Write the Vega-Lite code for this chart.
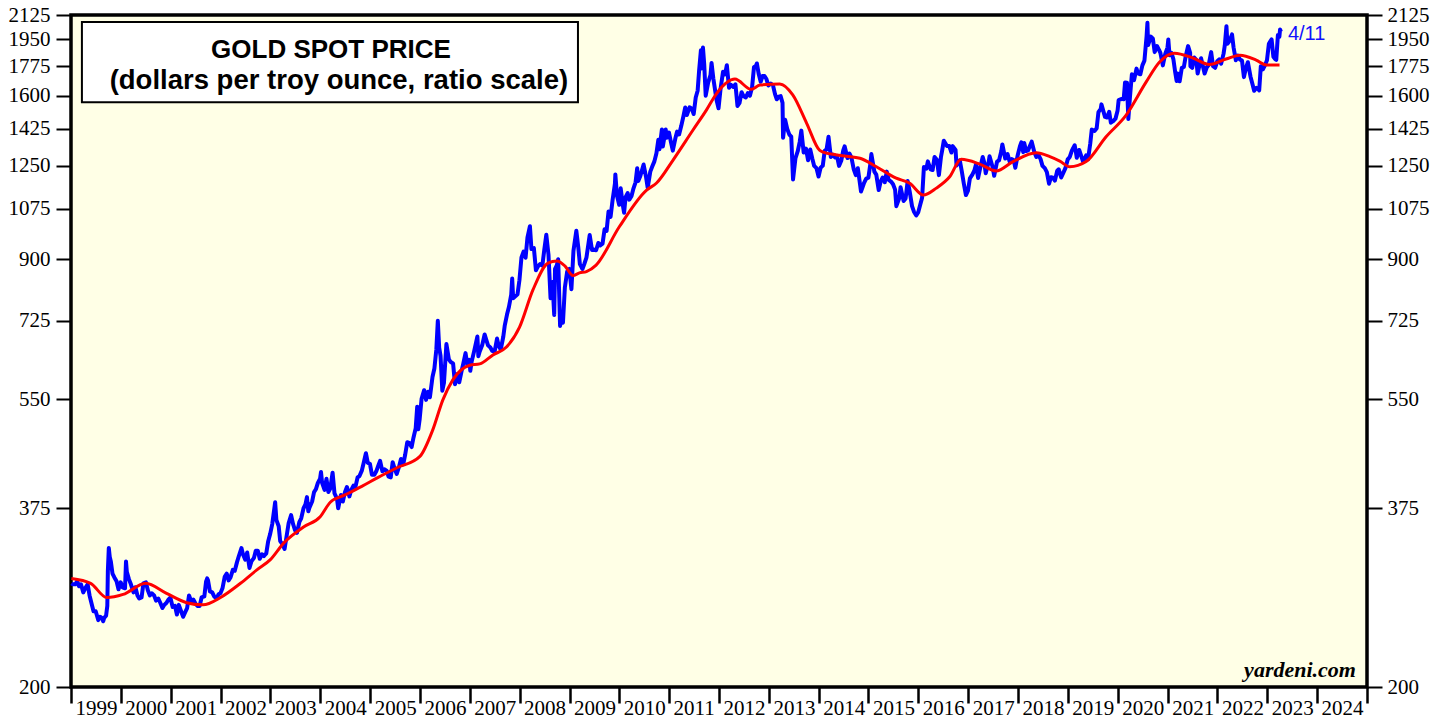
{
  "$schema": "https://vega.github.io/schema/vega-lite/v6.json",
  "width": 1296,
  "height": 672,
  "autosize": "none",
  "padding": {"left": 71, "top": 15, "right": 77, "bottom": 32},
  "background": "white",
  "datasets": {
    "gold": [
      {"d":"1999-01-04","p":288},{"d":"1999-01-15","p":287},{"d":"1999-02-01","p":287},{"d":"1999-02-15","p":290},{"d":"1999-03-01","p":285},{"d":"1999-03-15","p":287},{"d":"1999-04-01","p":279},{"d":"1999-04-15","p":283},{"d":"1999-05-03","p":287},{"d":"1999-05-17","p":276},{"d":"1999-06-01","p":268},{"d":"1999-06-15","p":261},{"d":"1999-07-01","p":261},{"d":"1999-07-20","p":253},{"d":"1999-08-02","p":256},{"d":"1999-08-16","p":255},{"d":"1999-08-25","p":252},{"d":"1999-09-01","p":255},{"d":"1999-09-15","p":257},{"d":"1999-09-24","p":266},{"d":"1999-09-28","p":300},{"d":"1999-10-05","p":326},{"d":"1999-10-12","p":316},{"d":"1999-10-20","p":311},{"d":"1999-11-01","p":298},{"d":"1999-11-15","p":294},{"d":"1999-12-01","p":290},{"d":"1999-12-15","p":282},{"d":"1999-12-31","p":289},
      {"d":"2000-01-14","p":284},{"d":"2000-02-01","p":283},{"d":"2000-02-08","p":311},{"d":"2000-02-14","p":300},{"d":"2000-03-01","p":292},{"d":"2000-03-15","p":287},{"d":"2000-04-03","p":279},{"d":"2000-04-17","p":284},{"d":"2000-05-02","p":276},{"d":"2000-05-15","p":273},{"d":"2000-06-01","p":274},{"d":"2000-06-15","p":288},{"d":"2000-07-03","p":289},{"d":"2000-07-17","p":281},{"d":"2000-08-01","p":276},{"d":"2000-08-15","p":278},{"d":"2000-09-01","p":276},{"d":"2000-09-15","p":271},{"d":"2000-10-02","p":273},{"d":"2000-10-16","p":269},{"d":"2000-11-01","p":264},{"d":"2000-11-15","p":267},{"d":"2000-12-01","p":269},{"d":"2000-12-15","p":272},{"d":"2000-12-29","p":274},
      {"d":"2001-01-15","p":265},{"d":"2001-02-01","p":266},{"d":"2001-02-15","p":258},{"d":"2001-03-01","p":267},{"d":"2001-03-15","p":262},{"d":"2001-04-02","p":256},{"d":"2001-04-16","p":260},{"d":"2001-05-01","p":264},{"d":"2001-05-15","p":276},{"d":"2001-06-01","p":270},{"d":"2001-06-15","p":272},{"d":"2001-07-02","p":268},{"d":"2001-07-16","p":266},{"d":"2001-08-01","p":266},{"d":"2001-08-15","p":274},{"d":"2001-09-04","p":275},{"d":"2001-09-17","p":290},{"d":"2001-09-25","p":293},{"d":"2001-10-01","p":291},{"d":"2001-10-15","p":280},{"d":"2001-11-01","p":279},{"d":"2001-11-15","p":275},{"d":"2001-12-03","p":273},{"d":"2001-12-17","p":277},{"d":"2001-12-31","p":278},
      {"d":"2002-01-15","p":283},{"d":"2002-02-01","p":295},{"d":"2002-02-15","p":298},{"d":"2002-03-01","p":291},{"d":"2002-03-15","p":294},{"d":"2002-04-01","p":302},{"d":"2002-04-15","p":301},{"d":"2002-05-01","p":310},{"d":"2002-05-15","p":317},{"d":"2002-06-03","p":326},{"d":"2002-06-14","p":319},{"d":"2002-07-01","p":313},{"d":"2002-07-15","p":321},{"d":"2002-08-01","p":304},{"d":"2002-08-15","p":311},{"d":"2002-09-03","p":315},{"d":"2002-09-16","p":323},{"d":"2002-10-01","p":323},{"d":"2002-10-15","p":314},{"d":"2002-11-01","p":319},{"d":"2002-11-15","p":317},{"d":"2002-12-02","p":320},{"d":"2002-12-16","p":334},{"d":"2002-12-31","p":343},
      {"d":"2003-01-15","p":355},{"d":"2003-02-05","p":383},{"d":"2003-02-14","p":360},{"d":"2003-03-03","p":352},{"d":"2003-03-14","p":334},{"d":"2003-04-01","p":330},{"d":"2003-04-15","p":325},{"d":"2003-05-01","p":341},{"d":"2003-05-15","p":356},{"d":"2003-06-02","p":366},{"d":"2003-06-16","p":355},{"d":"2003-07-01","p":347},{"d":"2003-07-15","p":344},{"d":"2003-08-01","p":357},{"d":"2003-08-15","p":362},{"d":"2003-09-01","p":375},{"d":"2003-09-15","p":380},{"d":"2003-09-26","p":390},{"d":"2003-10-06","p":371},{"d":"2003-10-15","p":376},{"d":"2003-11-03","p":384},{"d":"2003-11-17","p":397},{"d":"2003-12-01","p":401},{"d":"2003-12-15","p":410},{"d":"2003-12-31","p":416},
      {"d":"2004-01-07","p":426},{"d":"2004-01-15","p":410},{"d":"2004-02-02","p":400},{"d":"2004-02-16","p":416},{"d":"2004-03-01","p":397},{"d":"2004-03-15","p":402},{"d":"2004-04-01","p":425},{"d":"2004-04-15","p":395},{"d":"2004-05-03","p":388},{"d":"2004-05-12","p":375},{"d":"2004-06-01","p":393},{"d":"2004-06-15","p":384},{"d":"2004-07-01","p":397},{"d":"2004-07-15","p":404},{"d":"2004-08-02","p":391},{"d":"2004-08-16","p":400},{"d":"2004-09-01","p":406},{"d":"2004-09-15","p":404},{"d":"2004-10-01","p":418},{"d":"2004-10-15","p":420},{"d":"2004-11-01","p":428},{"d":"2004-11-15","p":440},{"d":"2004-12-01","p":455},{"d":"2004-12-15","p":440},{"d":"2004-12-31","p":438},
      {"d":"2005-01-14","p":422},{"d":"2005-02-01","p":422},{"d":"2005-02-15","p":427},{"d":"2005-03-01","p":435},{"d":"2005-03-15","p":443},{"d":"2005-04-01","p":427},{"d":"2005-04-15","p":430},{"d":"2005-05-02","p":428},{"d":"2005-05-16","p":419},{"d":"2005-06-01","p":418},{"d":"2005-06-15","p":441},{"d":"2005-07-01","p":430},{"d":"2005-07-15","p":423},{"d":"2005-08-01","p":434},{"d":"2005-08-15","p":446},{"d":"2005-09-01","p":438},{"d":"2005-09-15","p":453},{"d":"2005-09-30","p":473},{"d":"2005-10-14","p":472},{"d":"2005-11-01","p":465},{"d":"2005-11-15","p":481},{"d":"2005-12-01","p":497},{"d":"2005-12-12","p":536},{"d":"2005-12-20","p":495},{"d":"2005-12-30","p":513},
      {"d":"2006-01-13","p":551},{"d":"2006-02-01","p":568},{"d":"2006-02-15","p":549},{"d":"2006-03-01","p":565},{"d":"2006-03-15","p":554},{"d":"2006-04-03","p":595},{"d":"2006-04-17","p":613},{"d":"2006-05-01","p":655},{"d":"2006-05-12","p":725},{"d":"2006-05-22","p":660},{"d":"2006-06-01","p":641},{"d":"2006-06-14","p":567},{"d":"2006-06-26","p":583},{"d":"2006-07-03","p":615},{"d":"2006-07-14","p":668},{"d":"2006-08-01","p":633},{"d":"2006-08-15","p":627},{"d":"2006-09-01","p":624},{"d":"2006-09-15","p":580},{"d":"2006-10-02","p":601},{"d":"2006-10-16","p":584},{"d":"2006-11-01","p":606},{"d":"2006-11-15","p":624},{"d":"2006-12-01","p":647},{"d":"2006-12-15","p":620},{"d":"2006-12-29","p":632},
      {"d":"2007-01-05","p":608},{"d":"2007-01-15","p":628},{"d":"2007-02-01","p":650},{"d":"2007-02-26","p":686},{"d":"2007-03-05","p":640},{"d":"2007-03-15","p":651},{"d":"2007-04-02","p":665},{"d":"2007-04-20","p":691},{"d":"2007-05-01","p":679},{"d":"2007-05-15","p":665},{"d":"2007-06-01","p":660},{"d":"2007-06-15","p":652},{"d":"2007-07-02","p":650},{"d":"2007-07-20","p":681},{"d":"2007-08-01","p":664},{"d":"2007-08-16","p":655},{"d":"2007-09-04","p":686},{"d":"2007-09-14","p":712},{"d":"2007-10-01","p":741},{"d":"2007-10-15","p":761},{"d":"2007-11-01","p":795},{"d":"2007-11-08","p":841},{"d":"2007-11-15","p":785},{"d":"2007-12-03","p":791},{"d":"2007-12-17","p":796},{"d":"2007-12-31","p":836},
      {"d":"2008-01-15","p":906},{"d":"2008-01-31","p":925},{"d":"2008-02-14","p":905},{"d":"2008-02-28","p":972},{"d":"2008-03-17","p":1011},{"d":"2008-03-28","p":933},{"d":"2008-04-15","p":936},{"d":"2008-04-30","p":866},{"d":"2008-05-15","p":878},{"d":"2008-05-30","p":885},{"d":"2008-06-16","p":880},{"d":"2008-06-30","p":930},{"d":"2008-07-15","p":981},{"d":"2008-07-31","p":915},{"d":"2008-08-15","p":785},{"d":"2008-08-29","p":831},{"d":"2008-09-11","p":740},{"d":"2008-09-17","p":870},{"d":"2008-09-30","p":881},{"d":"2008-10-10","p":900},{"d":"2008-10-24","p":712},{"d":"2008-11-07","p":742},{"d":"2008-11-14","p":720},{"d":"2008-11-28","p":815},{"d":"2008-12-15","p":862},{"d":"2008-12-31","p":870},
      {"d":"2009-01-15","p":810},{"d":"2009-01-30","p":927},{"d":"2009-02-20","p":995},{"d":"2009-03-06","p":940},{"d":"2009-03-18","p":885},{"d":"2009-04-06","p":870},{"d":"2009-04-20","p":886},{"d":"2009-05-05","p":905},{"d":"2009-05-29","p":980},{"d":"2009-06-15","p":930},{"d":"2009-06-30","p":931},{"d":"2009-07-15","p":929},{"d":"2009-07-31","p":953},{"d":"2009-08-14","p":945},{"d":"2009-08-31","p":951},{"d":"2009-09-15","p":1000},{"d":"2009-09-30","p":995},{"d":"2009-10-14","p":1065},{"d":"2009-10-29","p":1045},{"d":"2009-11-13","p":1110},{"d":"2009-11-30","p":1175},{"d":"2009-12-03","p":1213},{"d":"2009-12-15","p":1125},{"d":"2009-12-31","p":1090},
      {"d":"2010-01-11","p":1155},{"d":"2010-01-28","p":1085},{"d":"2010-02-05","p":1060},{"d":"2010-02-16","p":1120},{"d":"2010-03-03","p":1136},{"d":"2010-03-15","p":1110},{"d":"2010-04-01","p":1125},{"d":"2010-04-15","p":1155},{"d":"2010-04-30","p":1180},{"d":"2010-05-12","p":1240},{"d":"2010-05-20","p":1185},{"d":"2010-06-04","p":1206},{"d":"2010-06-28","p":1256},{"d":"2010-07-15","p":1205},{"d":"2010-07-28","p":1158},{"d":"2010-08-16","p":1225},{"d":"2010-08-31","p":1248},{"d":"2010-09-15","p":1270},{"d":"2010-09-30","p":1307},{"d":"2010-10-14","p":1370},{"d":"2010-10-22","p":1325},{"d":"2010-11-09","p":1421},{"d":"2010-11-16","p":1338},{"d":"2010-12-07","p":1421},{"d":"2010-12-15","p":1380},{"d":"2010-12-31","p":1405},
      {"d":"2011-01-14","p":1360},{"d":"2011-01-28","p":1319},{"d":"2011-02-15","p":1375},{"d":"2011-02-28","p":1410},{"d":"2011-03-15","p":1396},{"d":"2011-03-31","p":1439},{"d":"2011-04-15","p":1486},{"d":"2011-04-29","p":1535},{"d":"2011-05-11","p":1495},{"d":"2011-05-31","p":1536},{"d":"2011-06-15","p":1530},{"d":"2011-06-30","p":1500},{"d":"2011-07-15","p":1590},{"d":"2011-07-29","p":1628},{"d":"2011-08-09","p":1750},{"d":"2011-08-22","p":1877},{"d":"2011-08-25","p":1760},{"d":"2011-09-06","p":1895},{"d":"2011-09-15","p":1790},{"d":"2011-09-26","p":1600},{"d":"2011-10-14","p":1675},{"d":"2011-10-31","p":1720},{"d":"2011-11-08","p":1795},{"d":"2011-11-21","p":1700},{"d":"2011-12-15","p":1575},{"d":"2011-12-29","p":1531},
      {"d":"2012-01-13","p":1640},{"d":"2012-01-31","p":1740},{"d":"2012-02-15","p":1725},{"d":"2012-02-28","p":1781},{"d":"2012-03-15","p":1645},{"d":"2012-03-30","p":1662},{"d":"2012-04-16","p":1650},{"d":"2012-05-01","p":1665},{"d":"2012-05-16","p":1543},{"d":"2012-05-31","p":1560},{"d":"2012-06-15","p":1620},{"d":"2012-06-29","p":1598},{"d":"2012-07-16","p":1590},{"d":"2012-07-31","p":1615},{"d":"2012-08-15","p":1600},{"d":"2012-08-31","p":1648},{"d":"2012-09-14","p":1770},{"d":"2012-09-28","p":1776},{"d":"2012-10-05","p":1792},{"d":"2012-10-19","p":1725},{"d":"2012-11-02","p":1680},{"d":"2012-11-16","p":1715},{"d":"2012-11-30","p":1715},{"d":"2012-12-14","p":1697},{"d":"2012-12-28","p":1658},
      {"d":"2013-01-15","p":1670},{"d":"2013-01-31","p":1660},{"d":"2013-02-15","p":1609},{"d":"2013-02-28","p":1580},{"d":"2013-03-15","p":1595},{"d":"2013-03-28","p":1598},{"d":"2013-04-11","p":1560},{"d":"2013-04-15","p":1380},{"d":"2013-04-30","p":1470},{"d":"2013-05-15","p":1425},{"d":"2013-05-31","p":1395},{"d":"2013-06-14","p":1385},{"d":"2013-06-27","p":1192},{"d":"2013-07-15","p":1285},{"d":"2013-07-31","p":1315},{"d":"2013-08-15","p":1360},{"d":"2013-08-27","p":1415},{"d":"2013-09-13","p":1310},{"d":"2013-09-30","p":1328},{"d":"2013-10-15","p":1275},{"d":"2013-10-31","p":1324},{"d":"2013-11-15","p":1283},{"d":"2013-11-29","p":1250},{"d":"2013-12-16","p":1240},{"d":"2013-12-31","p":1204},
      {"d":"2014-01-15","p":1242},{"d":"2014-01-31","p":1251},{"d":"2014-02-14","p":1318},{"d":"2014-02-28","p":1325},{"d":"2014-03-14","p":1385},{"d":"2014-03-31","p":1290},{"d":"2014-04-15","p":1300},{"d":"2014-04-30","p":1288},{"d":"2014-05-15","p":1295},{"d":"2014-05-30","p":1250},{"d":"2014-06-16","p":1274},{"d":"2014-06-30","p":1320},{"d":"2014-07-10","p":1339},{"d":"2014-07-31","p":1285},{"d":"2014-08-15","p":1305},{"d":"2014-08-29","p":1287},{"d":"2014-09-15","p":1235},{"d":"2014-09-30","p":1210},{"d":"2014-10-15","p":1240},{"d":"2014-10-31","p":1172},{"d":"2014-11-07","p":1142},{"d":"2014-11-28","p":1175},{"d":"2014-12-15","p":1195},{"d":"2014-12-31","p":1199},
      {"d":"2015-01-15","p":1260},{"d":"2015-01-22","p":1303},{"d":"2015-02-13","p":1225},{"d":"2015-02-27","p":1212},{"d":"2015-03-17","p":1148},{"d":"2015-03-31","p":1183},{"d":"2015-04-15","p":1200},{"d":"2015-04-30","p":1180},{"d":"2015-05-15","p":1225},{"d":"2015-05-29","p":1190},{"d":"2015-06-15","p":1183},{"d":"2015-06-30","p":1172},{"d":"2015-07-15","p":1150},{"d":"2015-07-24","p":1085},{"d":"2015-08-14","p":1115},{"d":"2015-08-24","p":1160},{"d":"2015-09-15","p":1105},{"d":"2015-09-30","p":1115},{"d":"2015-10-15","p":1185},{"d":"2015-10-30","p":1142},{"d":"2015-11-16","p":1085},{"d":"2015-11-30","p":1064},{"d":"2015-12-17","p":1050},{"d":"2015-12-31","p":1061},
      {"d":"2016-01-15","p":1090},{"d":"2016-01-29","p":1118},{"d":"2016-02-11","p":1245},{"d":"2016-02-29","p":1238},{"d":"2016-03-11","p":1270},{"d":"2016-03-31","p":1235},{"d":"2016-04-15","p":1232},{"d":"2016-04-29","p":1290},{"d":"2016-05-16","p":1277},{"d":"2016-05-31","p":1210},{"d":"2016-06-15","p":1290},{"d":"2016-06-24","p":1320},{"d":"2016-07-06","p":1366},{"d":"2016-07-29","p":1340},{"d":"2016-08-15","p":1340},{"d":"2016-08-31","p":1310},{"d":"2016-09-09","p":1340},{"d":"2016-09-30","p":1322},{"d":"2016-10-07","p":1252},{"d":"2016-10-31","p":1275},{"d":"2016-11-15","p":1225},{"d":"2016-11-30","p":1173},{"d":"2016-12-15","p":1128},{"d":"2016-12-30","p":1146},
      {"d":"2017-01-13","p":1196},{"d":"2017-01-31","p":1212},{"d":"2017-02-15","p":1230},{"d":"2017-02-27","p":1257},{"d":"2017-03-14","p":1198},{"d":"2017-03-31","p":1245},{"d":"2017-04-17","p":1290},{"d":"2017-04-28","p":1266},{"d":"2017-05-09","p":1218},{"d":"2017-05-31","p":1268},{"d":"2017-06-06","p":1293},{"d":"2017-06-30","p":1242},{"d":"2017-07-10","p":1207},{"d":"2017-07-31","p":1269},{"d":"2017-08-15","p":1275},{"d":"2017-08-31","p":1316},{"d":"2017-09-08","p":1348},{"d":"2017-09-29","p":1283},{"d":"2017-10-16","p":1303},{"d":"2017-10-31","p":1270},{"d":"2017-11-15","p":1280},{"d":"2017-11-30","p":1276},{"d":"2017-12-12","p":1242},{"d":"2017-12-29","p":1297},
      {"d":"2018-01-15","p":1340},{"d":"2018-01-25","p":1358},{"d":"2018-02-08","p":1312},{"d":"2018-02-15","p":1355},{"d":"2018-03-01","p":1317},{"d":"2018-03-15","p":1320},{"d":"2018-04-11","p":1361},{"d":"2018-04-30","p":1313},{"d":"2018-05-15","p":1290},{"d":"2018-05-31","p":1298},{"d":"2018-06-15","p":1280},{"d":"2018-06-29","p":1250},{"d":"2018-07-16","p":1240},{"d":"2018-07-31","p":1223},{"d":"2018-08-16","p":1174},{"d":"2018-08-31","p":1201},{"d":"2018-09-14","p":1199},{"d":"2018-09-28","p":1187},{"d":"2018-10-15","p":1229},{"d":"2018-10-26","p":1235},{"d":"2018-11-13","p":1200},{"d":"2018-11-30","p":1222},{"d":"2018-12-14","p":1240},{"d":"2018-12-31","p":1279},
      {"d":"2019-01-15","p":1290},{"d":"2019-01-31","p":1320},{"d":"2019-02-20","p":1344},{"d":"2019-02-28","p":1316},{"d":"2019-03-07","p":1286},{"d":"2019-03-25","p":1322},{"d":"2019-04-23","p":1268},{"d":"2019-05-15","p":1297},{"d":"2019-05-29","p":1280},{"d":"2019-06-14","p":1352},{"d":"2019-06-25","p":1420},{"d":"2019-07-15","p":1413},{"d":"2019-07-31","p":1427},{"d":"2019-08-13","p":1510},{"d":"2019-08-30","p":1528},{"d":"2019-09-04","p":1552},{"d":"2019-09-30","p":1485},{"d":"2019-10-15","p":1482},{"d":"2019-10-31","p":1512},{"d":"2019-11-12","p":1455},{"d":"2019-11-29","p":1463},{"d":"2019-12-16","p":1476},{"d":"2019-12-31","p":1517},
      {"d":"2020-01-08","p":1575},{"d":"2020-01-31","p":1582},{"d":"2020-02-14","p":1580},{"d":"2020-02-24","p":1676},{"d":"2020-03-09","p":1675},{"d":"2020-03-19","p":1474},{"d":"2020-03-31","p":1592},{"d":"2020-04-14","p":1725},{"d":"2020-04-30","p":1690},{"d":"2020-05-18","p":1760},{"d":"2020-05-29","p":1730},{"d":"2020-06-15","p":1725},{"d":"2020-06-30","p":1780},{"d":"2020-07-15","p":1810},{"d":"2020-07-31","p":1975},{"d":"2020-08-06","p":2067},{"d":"2020-08-11","p":1912},{"d":"2020-08-31","p":1970},{"d":"2020-09-15","p":1955},{"d":"2020-09-28","p":1865},{"d":"2020-10-15","p":1905},{"d":"2020-10-30","p":1880},{"d":"2020-11-09","p":1860},{"d":"2020-11-27","p":1780},{"d":"2020-12-15","p":1855},{"d":"2020-12-31","p":1895},
      {"d":"2021-01-06","p":1950},{"d":"2021-01-15","p":1845},{"d":"2021-01-29","p":1860},{"d":"2021-02-12","p":1820},{"d":"2021-02-26","p":1735},{"d":"2021-03-08","p":1685},{"d":"2021-03-15","p":1730},{"d":"2021-03-30","p":1683},{"d":"2021-04-15","p":1765},{"d":"2021-04-30","p":1770},{"d":"2021-05-14","p":1840},{"d":"2021-05-31","p":1905},{"d":"2021-06-15","p":1860},{"d":"2021-06-17","p":1775},{"d":"2021-06-30","p":1765},{"d":"2021-07-15","p":1830},{"d":"2021-07-30","p":1815},{"d":"2021-08-09","p":1730},{"d":"2021-08-31","p":1815},{"d":"2021-09-03","p":1825},{"d":"2021-09-29","p":1730},{"d":"2021-10-15","p":1768},{"d":"2021-10-29","p":1783},{"d":"2021-11-16","p":1865},{"d":"2021-11-30","p":1775},{"d":"2021-12-15","p":1765},{"d":"2021-12-31","p":1806},
      {"d":"2022-01-14","p":1818},{"d":"2022-01-28","p":1790},{"d":"2022-02-15","p":1855},{"d":"2022-02-24","p":1910},{"d":"2022-03-08","p":2043},{"d":"2022-03-15","p":1920},{"d":"2022-03-31","p":1940},{"d":"2022-04-18","p":1985},{"d":"2022-04-29","p":1897},{"d":"2022-05-16","p":1812},{"d":"2022-05-31","p":1842},{"d":"2022-06-15","p":1817},{"d":"2022-06-30","p":1810},{"d":"2022-07-14","p":1708},{"d":"2022-07-29","p":1765},{"d":"2022-08-12","p":1800},{"d":"2022-08-31","p":1712},{"d":"2022-09-15","p":1665},{"d":"2022-09-27","p":1628},{"d":"2022-10-14","p":1645},{"d":"2022-10-31","p":1635},{"d":"2022-11-03","p":1630},{"d":"2022-11-15","p":1775},{"d":"2022-11-30","p":1755},{"d":"2022-12-15","p":1780},{"d":"2022-12-30","p":1813},
      {"d":"2023-01-13","p":1920},{"d":"2023-01-26","p":1940},{"d":"2023-02-02","p":1950},{"d":"2023-02-15","p":1835},{"d":"2023-02-28","p":1820},{"d":"2023-03-08","p":1815},{"d":"2023-03-15","p":1910},{"d":"2023-03-20","p":1980},{"d":"2023-03-31","p":1969},{"d":"2023-04-05","p":2020},{"d":"2023-04-11","p":2004}
    ],
    "ma": [
      {"d":"1999-01-04","m":293},{"d":"1999-05-25","m":288},{"d":"1999-09-20","m":274},{"d":"2000-01-18","m":277},{"d":"2000-07-01","m":288},{"d":"2000-12-01","m":278},{"d":"2001-04-27","m":269},{"d":"2001-08-25","m":267},{"d":"2002-01-01","m":274},{"d":"2002-05-27","m":288},{"d":"2002-09-24","m":302},{"d":"2003-01-01","m":313},{"d":"2003-04-10","m":332},{"d":"2003-09-01","m":351},{"d":"2004-01-01","m":364},{"d":"2004-03-15","m":383},{"d":"2004-07-01","m":393},{"d":"2004-11-01","m":405},{"d":"2005-03-01","m":418},{"d":"2005-07-13","m":432},{"d":"2006-01-01","m":450},{"d":"2006-04-05","m":494},{"d":"2006-06-18","m":549},{"d":"2006-08-30","m":589},{"d":"2007-01-01","m":620},{"d":"2007-03-15","m":623},{"d":"2007-06-20","m":643},{"d":"2007-09-27","m":661},{"d":"2008-01-01","m":709},{"d":"2008-04-08","m":808},{"d":"2008-07-27","m":888},{"d":"2008-10-01","m":895},{"d":"2008-12-01","m":878},{"d":"2009-01-26","m":850},{"d":"2009-03-15","m":858},{"d":"2009-05-05","m":862},{"d":"2009-07-15","m":882},{"d":"2010-01-01","m":1009},{"d":"2010-07-20","m":1148},{"d":"2010-10-01","m":1177},{"d":"2011-01-30","m":1276},{"d":"2011-06-25","m":1418},{"d":"2011-10-01","m":1521},{"d":"2011-12-17","m":1615},{"d":"2012-04-27","m":1696},{"d":"2012-08-25","m":1636},{"d":"2012-10-27","m":1661},{"d":"2013-03-22","m":1667},{"d":"2013-06-25","m":1604},{"d":"2013-10-05","m":1452},{"d":"2014-01-07","m":1321},{"d":"2014-02-03","m":1312},{"d":"2014-05-12","m":1299},{"d":"2014-10-30","m":1284},{"d":"2015-02-28","m":1246},{"d":"2015-07-23","m":1197},{"d":"2015-10-30","m":1176},{"d":"2016-02-07","m":1128},{"d":"2016-05-12","m":1156},{"d":"2016-08-18","m":1203},{"d":"2016-11-10","m":1279},{"d":"2017-03-26","m":1258},{"d":"2017-07-24","m":1228},{"d":"2017-11-25","m":1269},{"d":"2018-05-15","m":1309},{"d":"2018-08-22","m":1291},{"d":"2018-11-03","m":1271},{"d":"2019-01-15","m":1246},{"d":"2019-05-15","m":1269},{"d":"2019-10-08","m":1385},{"d":"2020-03-03","m":1494},{"d":"2020-07-27","m":1678},{"d":"2020-11-03","m":1801},{"d":"2021-02-20","m":1858},{"d":"2021-07-05","m":1827},{"d":"2021-11-03","m":1785},{"d":"2022-03-05","m":1820},{"d":"2022-06-15","m":1845},{"d":"2022-10-12","m":1813},{"d":"2022-12-24","m":1782},{"d":"2023-04-01","m":1782}
    ]
  },
  "layer": [
    {
      "data": {"values": [{"x1":"1999-03-22","x2":"2009-03-04","y1":2073,"y2":1564}]},
      "mark": {"type": "rect", "fill": "white", "stroke": "black", "strokeWidth": 2},
      "encoding": {
        "x": {"field": "x1", "type": "temporal", "title": null},
        "x2": {"field": "x2"},
        "y": {"field": "y1", "type": "quantitative", "axis": null},
        "y2": {"field": "y2"}
      }
    },
    {
      "data": {"name": "gold"},
      "mark": {"type": "line", "color": "#0000FF", "strokeWidth": 4, "strokeJoin": "round"},
      "encoding": {
        "x": {
          "field": "d", "type": "temporal", "title": null,
          "scale": {"domain": [{"year": 1999, "month": 1, "date": 1, "utc": true}, {"year": 2025, "month": 1, "date": 1, "utc": true}]},
          "axis": {
            "title": null, "orient": "bottom",
            "tickCount": {"interval": "year", "step": 1},
            "labelExpr": "year(datum.value) < 2025 ? timeFormat(datum.value, '%Y') : ''",
            "labelAlign": "left", "labelBaseline": "alphabetic", "labelOffset": 4,
            "labelPadding": 11, "tickSize": 16, "tickWidth": 2.5,
            "labelFlush": false, "labelOverlap": false, "labelBound": false
          }
        },
        "y": {
          "field": "p", "type": "quantitative",
          "scale": {"type": "log", "domain": [200, 2125], "nice": false},
          "axis": {"title": null, "orient": "left", "format": "d", "values": [200,375,550,725,900,1075,1250,1425,1600,1775,1950,2125], "tickSize": 15, "labelPadding": 6}
        }
      }
    },
    {
      "data": {"name": "ma"},
      "mark": {"type": "line", "color": "#FF0000", "strokeWidth": 3, "interpolate": "monotone"},
      "encoding": {
        "x": {"field": "d", "type": "temporal", "title": null},
        "y": {
          "field": "m", "type": "quantitative",
          "axis": {"title": null, "orient": "right", "format": "d", "values": [200,375,550,725,900,1075,1250,1425,1600,1775,1950,2125], "tickSize": 15, "labelPadding": 5}
        }
      }
    },
    {
      "data": {"values": [{"d":"2004-03-20","p":1826,"t":"GOLD SPOT PRICE"}]},
      "mark": {"type": "text", "font": "Liberation Sans", "fontWeight": "bold", "fontSize": 26, "align": "center", "baseline": "alphabetic", "color": "black"},
      "encoding": {
        "x": {"field": "d", "type": "temporal", "title": null},
        "y": {"field": "p", "type": "quantitative", "axis": null},
        "text": {"field": "t"}
      }
    },
    {
      "data": {"values": [{"d":"2004-05-17","p":1638,"t":"(dollars per troy ounce, ratio scale)"}]},
      "mark": {"type": "text", "font": "Liberation Sans", "fontWeight": "bold", "fontSize": 27.5, "align": "center", "baseline": "alphabetic", "color": "black"},
      "encoding": {
        "x": {"field": "d", "type": "temporal", "title": null},
        "y": {"field": "p", "type": "quantitative", "axis": null},
        "text": {"field": "t"}
      }
    },
    {
      "data": {"values": [{"d":"2023-04-11","p":2004,"t":"4/11"}]},
      "mark": {"type": "text", "font": "Liberation Sans", "fontSize": 20, "align": "left", "baseline": "middle", "dx": 7, "dy": 2, "color": "#1010FF"},
      "encoding": {
        "x": {"field": "d", "type": "temporal", "title": null},
        "y": {"field": "p", "type": "quantitative", "axis": null},
        "text": {"field": "t"}
      }
    },
    {
      "data": {"values": [{"d":"2024-10-12","p":207,"t":"yardeni.com"}]},
      "mark": {"type": "text", "font": "Liberation Serif", "fontWeight": "bold", "fontStyle": "italic", "fontSize": 22, "align": "right", "baseline": "alphabetic", "color": "black"},
      "encoding": {
        "x": {"field": "d", "type": "temporal", "title": null},
        "y": {"field": "p", "type": "quantitative", "axis": null},
        "text": {"field": "t"}
      }
    }
  ],
  "resolve": {"axis": {"y": "independent"}},
  "config": {
    "view": {"fill": "#FFFFE6", "stroke": "black", "strokeWidth": 3.5},
    "axis": {
      "grid": false, "domain": false,
      "labelFont": "Liberation Serif", "labelFontSize": 21, "labelColor": "black",
      "tickColor": "black", "tickWidth": 2
    }
  }
}
